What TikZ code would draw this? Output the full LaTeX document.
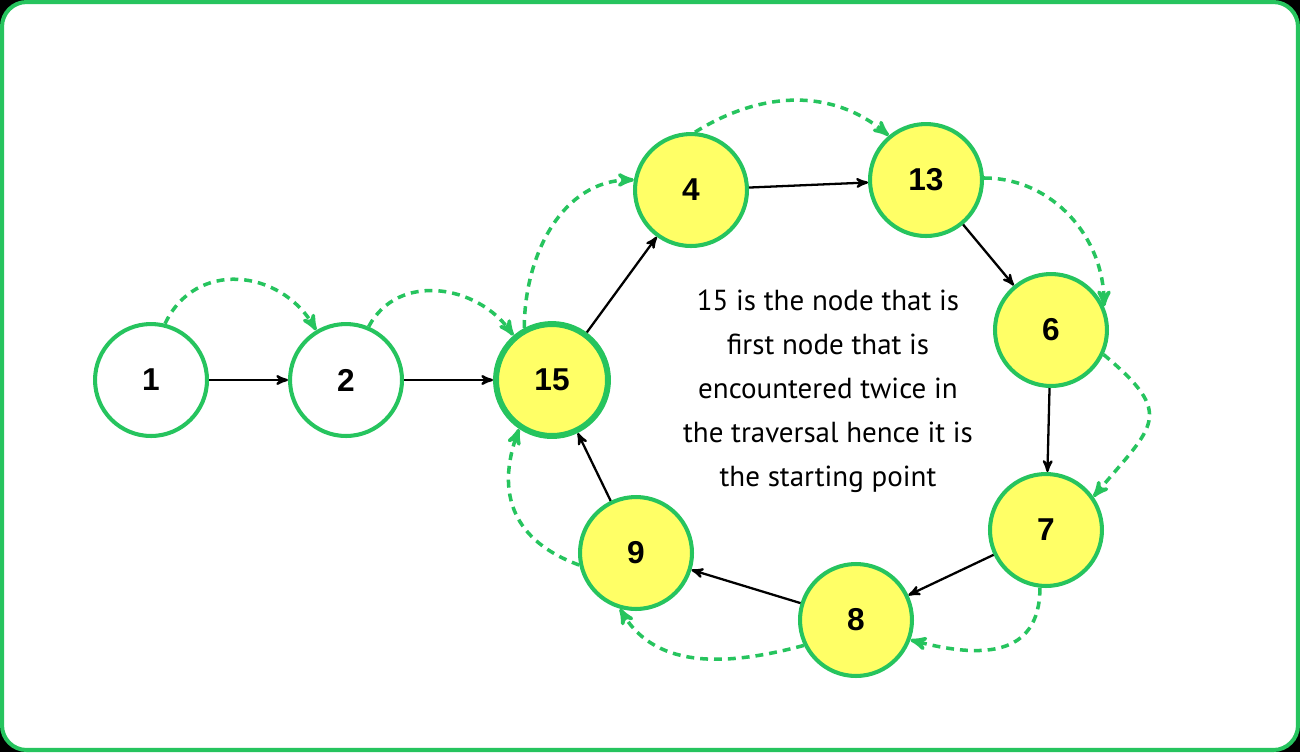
\documentclass[tikz,border=0pt]{standalone}
\usepackage{fontspec}
\setmainfont{PT Sans}
\newfontfamily\labelfont{Liberation Sans}
\usetikzlibrary{arrows}
\usepackage{xcolor}
\definecolor{grn}{RGB}{38,196,94}
\definecolor{ylw}{RGB}{255,255,102}
\tikzset{
 vertex/.style={circle, draw=grn, line width=2.3pt, minimum size=2.24cm, inner sep=0,
   font=\labelfont\bfseries\fontsize{18}{20}\selectfont},
 cyc/.style={vertex, fill=ylw},
 link/.style={black, line width=1.3pt, ->, >=stealth'},
 hop/.style={grn, line width=2pt, dash pattern=on 4.5pt off 3.4pt, ->, >=stealth'}
}

\begin{document}
\begin{tikzpicture}[x=0.02cm, y=-0.02cm]
% frame
\fill[black] (0,0) rectangle (1300,752);
\draw[grn, fill=white, line width=2.3pt, rounded corners=14] (2,2) rectangle (1298,750);
% nodes
\node[vertex] (n1) at (151,380) {1};
\node[vertex] (n2) at (346,380) {2};
\node[cyc, line width=3.4pt] (n15) at (552,380) {15};
\node[cyc] (n4) at (691,190) {4};
\node[cyc] (n13) at (926,180) {13};
\node[cyc] (n6) at (1051,330) {6};
\node[cyc] (n7) at (1046,530) {7};
\node[cyc] (n8) at (856,620) {8};
\node[cyc] (n9) at (636,553) {9};
\node[align=center, font=\fontsize{16.5}{25}\selectfont] (note) at (828,391)
 {15 is the node that is\\first node that is\\encountered twice in\\the traversal hence it is\\the starting point};
% slow pointer
\foreach \a/\b in {n1/n2, n2/n15, n15/n4, n4/n13, n13/n6, n6/n7, n7/n8, n8/n9, n9/n15}
 \draw[link] (\a) -- (\b);
% fast pointer
\draw[hop] (n1.76) to[out=65,in=120,looseness=1.2] (n2.121);
\draw[hop] (n2.67) to[out=62,in=125,looseness=1.1] (n15.131);
\draw[hop] (n15.118) to[out=90,in=180] (n4.170);
\draw[hop] (n4.86) to[out=32,in=140] (n13.130);
\draw[hop] (n13.2) to[out=0,in=90] (n6.24);
\draw[hop] (n6.-25) to[out=-40,in=50,looseness=1.7] (n7.35);
\draw[hop] (n7.-96) to[out=-90,in=-15,looseness=1.3] (n8.-20);
\draw[hop] (n8.-154) to[out=-165,in=-60] (n9.-106);
\draw[hop] (n9.-168) to[out=160,in=-110,looseness=1.2] (n15.236);
\end{tikzpicture}
\end{document}
